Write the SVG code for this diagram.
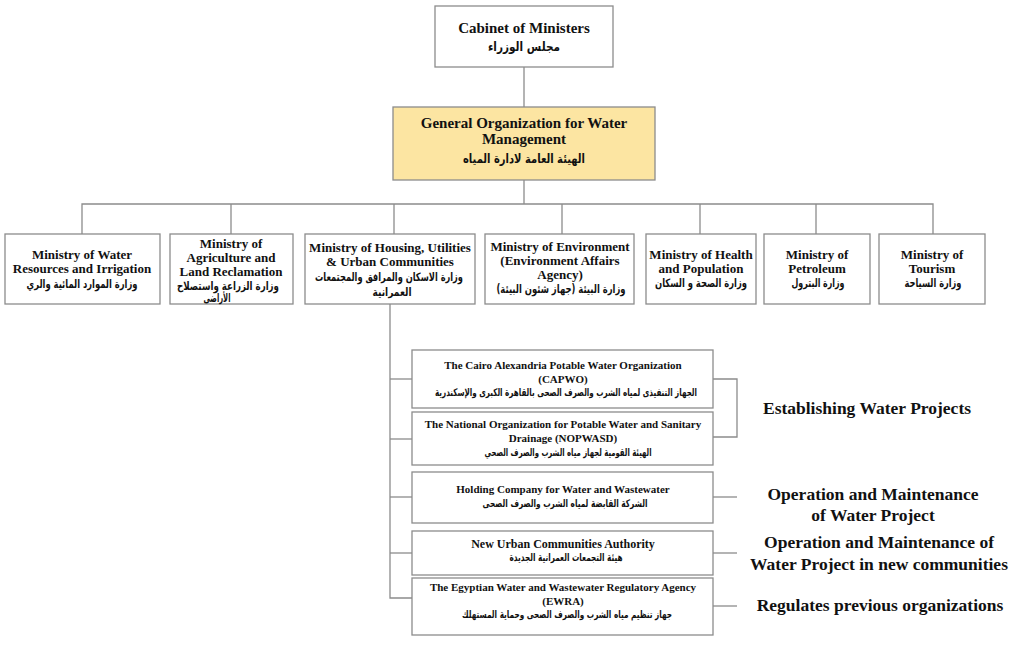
<svg xmlns="http://www.w3.org/2000/svg" width="1021" height="646" viewBox="0 0 1021 646">
<style>
.box{fill:#ffffff;stroke:#8c8c8c;stroke-width:1.3}
.gold{fill:#fce5a2;stroke:#8c8c8c;stroke-width:1.3}
.ln{fill:none;stroke:#8c8c8c;stroke-width:1.3}
text{font-family:"Liberation Serif","DejaVu Serif",serif;font-weight:bold;fill:#111;text-anchor:middle}
.t15{font-size:15px}
.t13{font-size:13px}
.t11{font-size:11px}
.t12{font-size:12px}
.ar{font-family:"DejaVu Sans","Noto Sans",sans-serif;font-weight:bold}
.a13{font-size:12.5px}
.a12{font-size:11.5px}
.a10{font-size:10.5px}
.t16{font-size:17.5px}
</style>
<rect width="1021" height="646" fill="#ffffff"/>
<g id="connectors">
<path class="ln" d="M524 67V107"/>
<path class="ln" d="M524 180V204"/>
<path class="ln" d="M82 234V204H933V234"/>
<path class="ln" d="M231 204V234"/>
<path class="ln" d="M394 204V234"/>
<path class="ln" d="M562 204V234"/>
<path class="ln" d="M700 204V234"/>
<path class="ln" d="M816 204V234"/>
<path class="ln" d="M390 304V598H412"/>
<path class="ln" d="M390 379H412"/>
<path class="ln" d="M390 439H412"/>
<path class="ln" d="M390 497H412"/>
<path class="ln" d="M390 553H412"/>
<path class="ln" d="M713 379H737V437H713"/>
<path class="ln" d="M713 497H737"/>
<path class="ln" d="M713 553H737"/>
<path class="ln" d="M713 606H737"/>
</g>
<g id="cabinet">
<rect class="box" x="435" y="6" width="178" height="61"/>
<text class="t15" x="524" y="33">Cabinet of Ministers</text>
<text class="ar a13" x="524" y="51" textLength="72" lengthAdjust="spacingAndGlyphs">مجلس الوزراء</text>
</g>
<g id="gowm">
<rect class="gold" x="393" y="107" width="262" height="73"/>
<text class="t15" x="524" y="128">General Organization for Water</text>
<text class="t15" x="524" y="144">Management</text>
<text class="ar a13" x="524" y="163" textLength="122" lengthAdjust="spacingAndGlyphs">الهيئة العامة لادارة المياه</text>
</g>
<g id="min-water">
<rect class="box" x="5" y="234" width="155" height="70"/>
<text class="t13" x="82" y="259">Ministry of Water</text>
<text class="t13" x="82" y="273">Resources and Irrigation</text>
<text class="ar a12" x="82" y="288" textLength="111" lengthAdjust="spacingAndGlyphs">وزارة الموارد المائية والري</text>
</g>
<g id="min-agri">
<rect class="box" x="170" y="234" width="123" height="70"/>
<text class="t13" x="231" y="248">Ministry of</text>
<text class="t13" x="231" y="262">Agriculture and</text>
<text class="t13" x="231" y="276">Land Reclamation</text>
<text class="ar a12" x="228" y="290" textLength="102" lengthAdjust="spacingAndGlyphs">وزارة الزراعة واستصلاح</text>
<text class="ar a12" x="217" y="302" textLength="27" lengthAdjust="spacingAndGlyphs">الأراضى</text>
</g>
<g id="min-housing">
<rect class="box" x="305" y="234" width="170" height="70"/>
<text class="t13" x="390" y="252">Ministry of Housing, Utilities</text>
<text class="t13" x="390" y="266">&amp; Urban Communities</text>
<text class="ar a12" x="389" y="281" textLength="148" lengthAdjust="spacingAndGlyphs">وزارة الاسكان والمرافق والمجتمعات</text>
<text class="ar a12" x="392" y="296" textLength="39" lengthAdjust="spacingAndGlyphs">العمرانية</text>
</g>
<g id="min-env">
<rect class="box" x="485" y="234" width="149" height="70"/>
<text class="t13" x="560" y="251">Ministry of Environment</text>
<text class="t13" x="560" y="265">(Environment Affairs</text>
<text class="t13" x="560" y="279">Agency)</text>
<text class="ar a12" x="561" y="293" textLength="129" lengthAdjust="spacingAndGlyphs">وزارة البيئة (جهاز شئون البيئة)</text>
</g>
<g id="min-health">
<rect class="box" x="646" y="234" width="110" height="70"/>
<text class="t13" x="701" y="259">Ministry of Health</text>
<text class="t13" x="701" y="273">and Population</text>
<text class="ar a12" x="701" y="287" textLength="92" lengthAdjust="spacingAndGlyphs">وزارة الصحة و السكان</text>
</g>
<g id="min-petroleum">
<rect class="box" x="764" y="234" width="106" height="70"/>
<text class="t13" x="817" y="259">Ministry of</text>
<text class="t13" x="817" y="273">Petroleum</text>
<text class="ar a12" x="818" y="287" textLength="53" lengthAdjust="spacingAndGlyphs">وزارة البترول</text>
</g>
<g id="min-tourism">
<rect class="box" x="879" y="234" width="106" height="70"/>
<text class="t13" x="932" y="259">Ministry of</text>
<text class="t13" x="932" y="273">Tourism</text>
<text class="ar a12" x="933" y="287" textLength="57" lengthAdjust="spacingAndGlyphs">وزارة السياحة</text>
</g>
<g id="capwo">
<rect class="box" x="412" y="350" width="301" height="58"/>
<text class="t11" x="563" y="369">The Cairo Alexandria Potable Water Organization</text>
<text class="t11" x="563" y="383">(CAPWO)</text>
<text class="ar a10" x="566" y="396" textLength="262" lengthAdjust="spacingAndGlyphs">الجهاز التنفيذى لمياه الشرب والصرف الصحى بالقاهرة الكبرى والإسكندرية</text>
</g>
<g id="nopwasd">
<rect class="box" x="412" y="412" width="301" height="53"/>
<text class="t11" x="563" y="428">The National Organization for Potable Water and Sanitary</text>
<text class="t11" x="563" y="442">Drainage (NOPWASD)</text>
<text class="ar a10" x="568" y="456" textLength="167" lengthAdjust="spacingAndGlyphs">الهيئة القومية لجهاز مياه الشرب والصرف الصحي</text>
</g>
<g id="holding">
<rect class="box" x="412" y="472" width="301" height="51"/>
<text class="t11" x="563" y="493">Holding Company for Water and Wastewater</text>
<text class="ar a10" x="565" y="507" textLength="165" lengthAdjust="spacingAndGlyphs">الشركة القابضة لمياه الشرب والصرف الصحى</text>
</g>
<g id="nuca">
<rect class="box" x="412" y="531" width="301" height="44"/>
<text class="t12" x="563" y="548">New Urban Communities Authority</text>
<text class="ar a10" x="566" y="561" textLength="113" lengthAdjust="spacingAndGlyphs">هيئة التجمعات العمرانية الجديدة</text>
</g>
<g id="ewra">
<rect class="box" x="412" y="578" width="301" height="57"/>
<text class="t11" x="563" y="591">The Egyptian Water and Wastewater Regulatory Agency</text>
<text class="t11" x="563" y="605">(EWRA)</text>
<text class="ar a10" x="567" y="618" textLength="210" lengthAdjust="spacingAndGlyphs">جهاز تنظيم مياه الشرب والصرف الصحى وحماية المستهلك</text>
</g>
<g id="roles">
<text class="t16" x="867" y="414">Establishing Water Projects</text>
<text class="t16" x="873" y="500">Operation and Maintenance</text>
<text class="t16" x="873" y="521">of Water Project</text>
<text class="t16" x="879" y="548">Operation and Maintenance of</text>
<text class="t16" x="879" y="570">Water Project in new communities</text>
<text class="t16" x="880" y="611">Regulates previous organizations</text>
</g>
</svg>
